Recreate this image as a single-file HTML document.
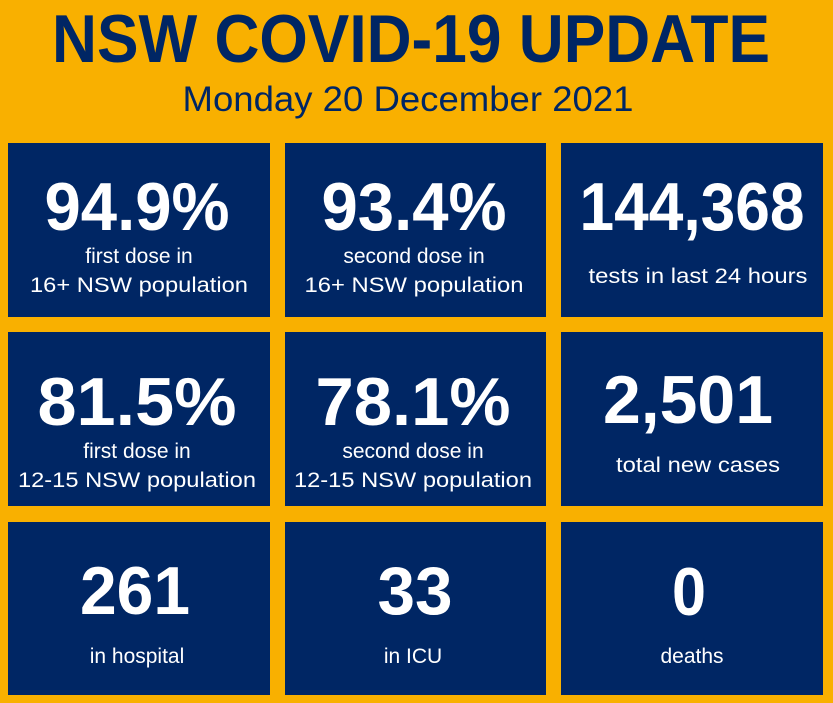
<!DOCTYPE html>
<html><head><meta charset="utf-8"><style>
html,body{margin:0;padding:0;background:#F9B000;}
svg{display:block;font-family:"Liberation Sans",Arial,sans-serif;}
</style></head><body>
<svg width="833" height="703" viewBox="0 0 833 703">
<rect x="0" y="0" width="833" height="703" fill="#F9B000"/>
<text x="411" y="62" text-anchor="middle" font-size="68" font-weight="bold" fill="#002664" textLength="718" lengthAdjust="spacingAndGlyphs">NSW COVID-19 UPDATE</text>
<text x="408" y="111" text-anchor="middle" font-size="35" fill="#002664" textLength="451" lengthAdjust="spacingAndGlyphs">Monday 20 December 2021</text>

<g fill="#002664">
<rect x="8" y="143" width="262" height="174"/>
<rect x="285" y="143" width="261" height="174"/>
<rect x="561" y="143" width="262" height="174"/>
<rect x="8" y="332" width="262" height="174"/>
<rect x="285" y="332" width="261" height="174"/>
<rect x="561" y="332" width="262" height="174"/>
<rect x="8" y="522" width="262" height="173"/>
<rect x="285" y="522" width="261" height="173"/>
<rect x="561" y="522" width="262" height="173"/>
</g>

<g fill="#ffffff" text-anchor="middle">
<text x="137" y="230" font-size="68" font-weight="bold" textLength="185" lengthAdjust="spacingAndGlyphs">94.9%</text>
<text x="139" y="263" font-size="21">first dose in</text>
<text x="139" y="292" font-size="21" textLength="218" lengthAdjust="spacingAndGlyphs">16+ NSW population</text>

<text x="414" y="230" font-size="68" font-weight="bold" textLength="185" lengthAdjust="spacingAndGlyphs">93.4%</text>
<text x="414" y="263" font-size="21">second dose in</text>
<text x="414" y="292" font-size="21" textLength="219" lengthAdjust="spacingAndGlyphs">16+ NSW population</text>

<text x="692" y="230" font-size="68" font-weight="bold" textLength="225" lengthAdjust="spacingAndGlyphs">144,368</text>
<text x="698" y="283" font-size="21" textLength="219" lengthAdjust="spacingAndGlyphs">tests in last 24 hours</text>

<text x="137" y="425" font-size="68" font-weight="bold" textLength="199" lengthAdjust="spacingAndGlyphs">81.5%</text>
<text x="137" y="458" font-size="21">first dose in</text>
<text x="137" y="487" font-size="21" textLength="238" lengthAdjust="spacingAndGlyphs">12-15 NSW population</text>

<text x="413" y="425" font-size="68" font-weight="bold" textLength="195" lengthAdjust="spacingAndGlyphs">78.1%</text>
<text x="413" y="458" font-size="21">second dose in</text>
<text x="413" y="487" font-size="21" textLength="238" lengthAdjust="spacingAndGlyphs">12-15 NSW population</text>

<text x="688" y="423" font-size="68" font-weight="bold" textLength="170" lengthAdjust="spacingAndGlyphs">2,501</text>
<text x="698" y="472" font-size="21" textLength="164" lengthAdjust="spacingAndGlyphs">total new cases</text>

<text x="135" y="614" font-size="68" font-weight="bold" textLength="110" lengthAdjust="spacingAndGlyphs">261</text>
<text x="137" y="663" font-size="21">in hospital</text>

<text x="415" y="614" font-size="68" font-weight="bold" textLength="75" lengthAdjust="spacingAndGlyphs">33</text>
<text x="413" y="663" font-size="21">in ICU</text>

<text x="689" y="615" font-size="68" font-weight="bold" textLength="34" lengthAdjust="spacingAndGlyphs">0</text>
<text x="692" y="663" font-size="21">deaths</text>
</g>
</svg>
</body></html>
